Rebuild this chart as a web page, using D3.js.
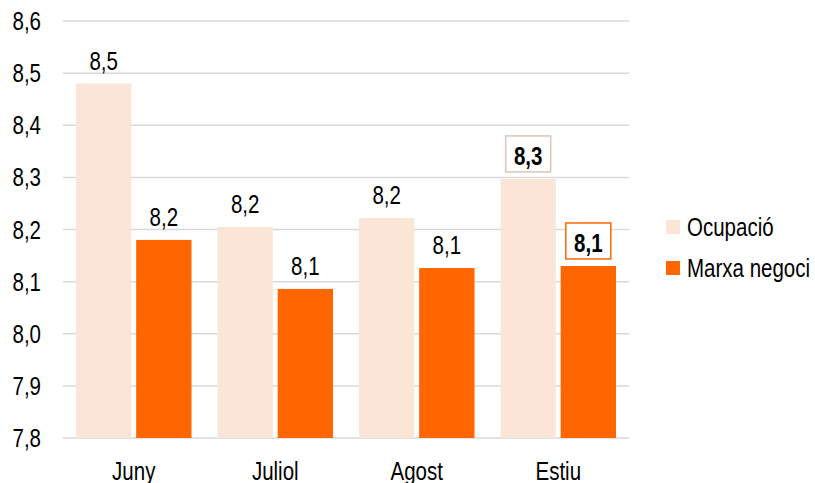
<!DOCTYPE html>
<html>
<head>
<meta charset="utf-8">
<script src="https://cdn.jsdelivr.net/npm/d3@7"></script>
<style>
  body { margin: 0; background: #fff; }
  svg { display: block; }
  text { font-family: "Liberation Sans Narrow", "Arial Narrow", "Liberation Sans", Arial, sans-serif; fill: #000; }
</style>
</head>
<body>
<script>
var width = 815;
var height = 483;

// data
var categories = ["Juny", "Juliol", "Agost", "Estiu"];
var seriesNames = ["Ocupació", "Marxa negoci"];
var ocupacio = [8.48, 8.205, 8.222, 8.297];
var marxaNegoci = [8.18, 8.086, 8.126, 8.13];
var yTicks = [7.8, 7.9, 8.0, 8.1, 8.2, 8.3, 8.4, 8.5, 8.6];
var colors = ["#fbe5d6", "#ff6600"];
var boxStroke = ["#dcc3ba", "#ff6600"];
var highlight = "Estiu";

// no narrow font installed, so squeeze the regular one
var squeeze = 0.82;
function place(x, y) { return "translate(" + x + "," + y + ") scale(" + squeeze + ",1)"; }

var svg = d3.select("body").append("svg")
    .attr("width", width)
    .attr("height", height);

var y = d3.scaleLinear().domain([7.8, 8.6]).range([438, 21]);
var x0 = d3.scaleBand().domain(categories).range([63, 629]);
var x1 = d3.scaleBand().domain(seriesNames)
    .range([13, x0.bandwidth() - 13])
    .paddingInner(0.08);

var fmt = function(v) { return d3.format(".1f")(v).replace(".", ","); };

// gridlines
svg.append("g").selectAll("line")
    .data(yTicks)
    .enter().append("line")
    .attr("x1", 63).attr("x2", 629)
    .attr("y1", function(d) { return y(d); })
    .attr("y2", function(d) { return y(d); })
    .attr("stroke", "#d9d9d9")
    .attr("stroke-width", 1.5);

// y labels
svg.append("g").selectAll("text")
    .data(yTicks)
    .enter().append("text")
    .attr("transform", function(d) { return place(41, y(d)); })
    .attr("dy", "0.36em")
    .attr("text-anchor", "end")
    .style("font-size", "25px")
    .text(function(d) { return fmt(d); });

// x labels
svg.append("g").selectAll("text")
    .data(categories)
    .enter().append("text")
    .attr("transform", function(d) { return place(x0(d) + x0.bandwidth() / 2, 480); })
    .attr("text-anchor", "middle")
    .style("font-size", "25px")
    .text(function(d) { return d; });

var rows = [];
categories.forEach(function(c, i) {
  rows.push({ cat: c, s: 0, name: seriesNames[0], v: ocupacio[i] });
  rows.push({ cat: c, s: 1, name: seriesNames[1], v: marxaNegoci[i] });
});

// bars
svg.append("g").selectAll("rect")
    .data(rows)
    .enter().append("rect")
    .attr("x", function(d) { return x0(d.cat) + x1(d.name); })
    .attr("y", function(d) { return y(d.v); })
    .attr("width", x1.bandwidth())
    .attr("height", function(d) { return y(7.8) - y(d.v); })
    .attr("fill", function(d) { return colors[d.s]; });

// value labels
var lab = svg.append("g").selectAll("g")
    .data(rows)
    .enter().append("g")
    .attr("transform", function(d) {
      return "translate(" + (x0(d.cat) + x1(d.name) + x1.bandwidth() / 2) + "," + (y(d.v) - 14) + ")";
    });

lab.filter(function(d) { return d.cat === highlight; })
    .append("rect")
    .attr("x", -22.5).attr("y", -29)
    .attr("width", 45).attr("height", 36)
    .attr("fill", "#fff")
    .attr("stroke", function(d) { return boxStroke[d.s]; })
    .attr("stroke-width", 1.5);

lab.append("text")
    .attr("transform", "scale(" + squeeze + ",1)")
    .attr("text-anchor", "middle")
    .style("font-size", "25px")
    .style("font-weight", function(d) { return d.cat === highlight ? "bold" : "normal"; })
    .text(function(d) { return fmt(d.v); });

// legend
var leg = svg.append("g").selectAll("g")
    .data(seriesNames)
    .enter().append("g")
    .attr("transform", function(d, i) { return "translate(666," + (220 + i * 41) + ")"; });

leg.append("rect")
    .attr("width", 14).attr("height", 14)
    .attr("fill", function(d, i) { return colors[i]; });

leg.append("text")
    .attr("transform", place(21, 7))
    .attr("dy", "0.36em")
    .style("font-size", "25px")
    .text(function(d) { return d; });
</script>
</body>
</html>
